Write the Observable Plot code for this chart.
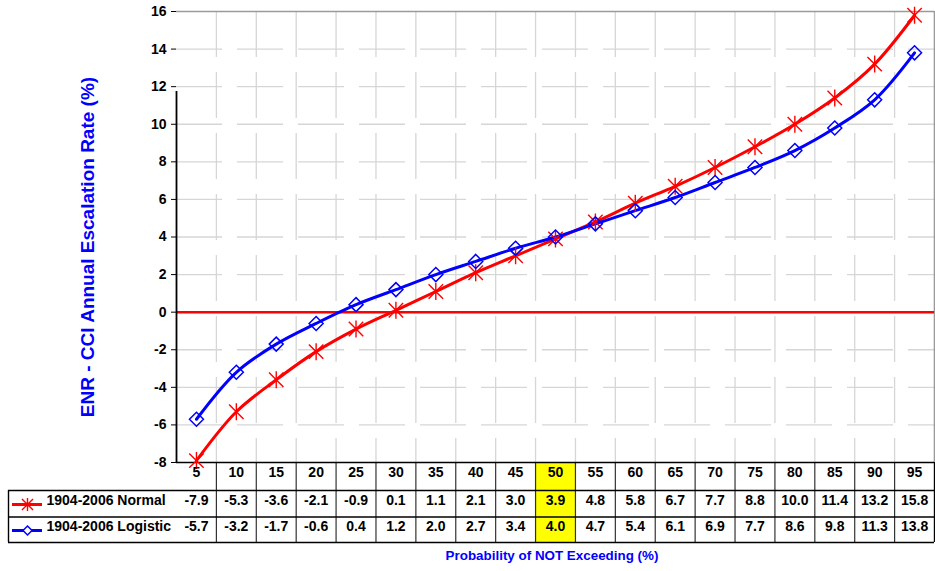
<!DOCTYPE html>
<html>
<head>
<meta charset="utf-8">
<script src="https://cdn.jsdelivr.net/npm/d3@7"></script>
<script src="https://cdn.jsdelivr.net/npm/@observablehq/plot@0.6"></script>
<style>
  html, body { margin: 0; padding: 0; background: #fff; }
  #chart { width: 935px; height: 571px; }
</style>
</head>
<body>
<div id="chart"></div>
<script>
// ---- data ----
const categories = [5, 10, 15, 20, 25, 30, 35, 40, 45, 50, 55, 60, 65, 70, 75, 80, 85, 90, 95];
const normalValues = [-7.9, -5.3, -3.6, -2.1, -0.9, 0.1, 1.1, 2.1, 3.0, 3.9, 4.8, 5.8, 6.7, 7.7, 8.8, 10.0, 11.4, 13.2, 15.8];
const logisticValues = [-5.7, -3.2, -1.7, -0.6, 0.4, 1.2, 2.0, 2.7, 3.4, 4.0, 4.7, 5.4, 6.1, 6.9, 7.7, 8.6, 9.8, 11.3, 13.8];
const yTicks = [-8, -6, -4, -2, 0, 2, 4, 6, 8, 10, 12, 14, 16];
const seriesNames = ["1904-2006 Normal", "1904-2006 Logistic"];
const highlightCategory = [50];
const yTitle = "ENR - CCI Annual Escalation Rate (%)";
const xTitle = "Probability of NOT Exceeding (%)";

// ---- layout ----
const W = 935, H = 571;
const mL = 176, mR = 1, mT = 11, mB = 109;
const frameR = W - mR;           // 934
const tableLeft = 8;             // left edge of legend column
const rowHead = 14, rowN = 42, rowL = 68;     // text centres below frame bottom
const lineN = 28, lineL = 54.5, lineEnd = 80; // row borders below frame bottom
const half = 2.5;                // half category step (between-tick positions)

const RED = "#ff0000", BLUE = "#0000ff", GRID = "#d6d6d6";
const FONT = "'Liberation Sans', Arial, sans-serif";

const normal = categories.map((c, i) => ({x: c, y: normalValues[i]}));
const logistic = categories.map((c, i) => ({x: c, y: logisticValues[i]}));
const boundaries = [categories[0] - half, ...categories.map(c => c + half)];
const innerBoundaries = boundaries.slice(1, -1);
const gridY = yTicks.filter(v => v !== 0 && v !== yTicks[0] && v !== yTicks[yTicks.length - 1]);

const star = {
  draw(ctx, size) {
    const r = Math.sqrt(size / Math.PI), d = r * 0.85;
    ctx.moveTo(0, -r); ctx.lineTo(0, r);
    ctx.moveTo(-d, -d); ctx.lineTo(d, d);
    ctx.moveTo(-d, d); ctx.lineTo(d, -d);
  }
};
const diamond = {
  draw(ctx, size) {
    const r = Math.sqrt(size / Math.PI);
    ctx.moveTo(0, -r); ctx.lineTo(r, 0); ctx.lineTo(0, r); ctx.lineTo(-r, 0); ctx.closePath();
  }
};

const txt = {fontFamily: FONT, fontWeight: "bold", fontSize: 14, fill: "black"};
const fmt = v => v.toFixed(1);

const chart = Plot.plot({
  width: W, height: H,
  marginLeft: mL, marginRight: mR, marginTop: mT, marginBottom: mB,
  style: {fontFamily: FONT, fontWeight: "bold", fontSize: "14px", color: "black", background: "white", overflow: "visible"},
  x: {type: "linear", domain: [categories[0] - half, categories[categories.length - 1] + half], axis: null},
  y: {domain: [yTicks[0], yTicks[yTicks.length - 1]], ticks: yTicks, tickSize: 5, tickPadding: 5, label: null, tickFormat: d => String(d)},
  marks: [
    // yellow highlight cells in the data table
    Plot.rect(highlightCategory, {x1: d => d - half, x2: d => d + half, y1: yTicks[0], y2: yTicks[0], insetBottom: -lineEnd, fill: "#ffff00"}),
    // gridlines
    Plot.ruleY(gridY, {stroke: GRID, strokeWidth: 1.3, strokeDasharray: "46,15"}),
    Plot.ruleX(innerBoundaries, {stroke: GRID, strokeWidth: 1.3, strokeDasharray: "46,15"}),
    // plot-area border (top & right)
    Plot.ruleY([yTicks[yTicks.length - 1]], {stroke: "#9a9a9a", strokeWidth: 1.6}),
    Plot.ruleX([boundaries[boundaries.length - 1]], {stroke: "#9a9a9a", strokeWidth: 1.6}),
    // zero line
    Plot.ruleY([0], {stroke: RED, strokeWidth: 2.5}),
    // data table grid
    Plot.ruleX(innerBoundaries, {y1: yTicks[0], y2: yTicks[0], insetBottom: -lineEnd, stroke: "#333", strokeWidth: 1.2}),
    Plot.ruleX([boundaries[boundaries.length - 1]], {y1: yTicks[0], y2: yTicks[0], insetBottom: -lineEnd, stroke: "black", strokeWidth: 1.4}),
    Plot.ruleX([boundaries[0]], {y1: yTicks[0], y2: yTicks[0], insetTop: lineN, insetBottom: -lineEnd, dx: tableLeft - mL, stroke: "black", strokeWidth: 1.4}),
    Plot.ruleY([yTicks[0]], {stroke: "black", strokeWidth: 1.4}),
    Plot.ruleY([yTicks[0]], {dy: lineN, insetLeft: tableLeft - mL, stroke: "black", strokeWidth: 1.4}),
    Plot.ruleY([yTicks[0]], {dy: lineL, insetLeft: tableLeft - mL, stroke: "black", strokeWidth: 1.4}),
    Plot.ruleY([yTicks[0]], {dy: lineEnd, insetLeft: tableLeft - mL, stroke: "black", strokeWidth: 1.4}),
    // left axis line (continues through table)
    Plot.ruleX([boundaries[0]], {y1: yTicks[0], y2: yTicks[yTicks.length - 1], insetBottom: -lineEnd, stroke: "black", strokeWidth: 1.8}),
    // series
    Plot.line(normal, {x: "x", y: "y", stroke: RED, strokeWidth: 3, curve: "catmull-rom"}),
    Plot.line(logistic, {x: "x", y: "y", stroke: BLUE, strokeWidth: 3, curve: "catmull-rom"}),
    Plot.dot(normal, {x: "x", y: "y", symbol: star, r: 8.5, stroke: RED, strokeWidth: 1.4, fill: "none"}),
    Plot.dot(logistic, {x: "x", y: "y", symbol: diamond, r: 7, stroke: BLUE, strokeWidth: 1.5, fill: "none"}),
    // table: category header row
    Plot.text(categories, {x: d => d, frameAnchor: "bottom", dy: rowHead, text: d => String(d), ...txt}),
    // table: value rows
    Plot.text(normal, {x: "x", frameAnchor: "bottom", dy: rowN, text: d => fmt(d.y), ...txt}),
    Plot.text(logistic, {x: "x", frameAnchor: "bottom", dy: rowL, text: d => fmt(d.y), ...txt}),
    // table: legend column
    Plot.ruleY([yTicks[0]], {dy: rowN, insetLeft: 12 - mL, insetRight: frameR - 42, stroke: RED, strokeWidth: 3}),
    Plot.ruleY([yTicks[0]], {dy: rowL, insetLeft: 12 - mL, insetRight: frameR - 42, stroke: BLUE, strokeWidth: 3}),
    Plot.dot([seriesNames[0]], {frameAnchor: "bottom-left", dx: 27 - mL, dy: rowN, symbol: star, r: 6.5, stroke: RED, strokeWidth: 1.4, fill: "none"}),
    Plot.dot([seriesNames[1]], {frameAnchor: "bottom-left", dx: 27 - mL, dy: rowL, symbol: diamond, r: 4.5, stroke: BLUE, strokeWidth: 1.5, fill: "white"}),
    Plot.text([seriesNames[0]], {frameAnchor: "bottom-left", dx: 46 - mL, dy: rowN, text: d => d, textAnchor: "start", ...txt}),
    Plot.text([seriesNames[1]], {frameAnchor: "bottom-left", dx: 46 - mL, dy: rowL, text: d => d, textAnchor: "start", ...txt}),
    // axis titles
    Plot.text([yTitle], {frameAnchor: "left", textAnchor: "middle", dx: 87 - mL, dy: 10, rotate: -90, text: d => d, fontFamily: FONT, fontWeight: "bold", fontSize: 19, fill: BLUE}),
    Plot.text([xTitle], {frameAnchor: "bottom", dx: -3.5, dy: 97, text: d => d, fontFamily: FONT, fontWeight: "bold", fontSize: 13.4, fill: BLUE})
  ]
});
document.getElementById("chart").appendChild(chart);
</script>
</body>
</html>
